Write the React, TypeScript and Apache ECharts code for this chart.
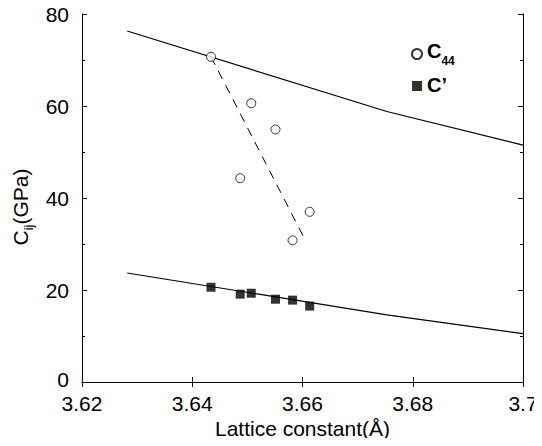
import React, { useEffect, useRef } from "react";
import * as echarts from "echarts";

const lattice = [3.6434, 3.6487, 3.6507, 3.6551, 3.6582, 3.6613];
const c44 = [70.7, 44.3, 60.6, 54.9, 30.8, 37.0];
const cPrime = [20.6, 19.1, 19.3, 18.0, 17.8, 16.5];

const fitX = [3.6434, 3.6606];
const fitY = [70.7, 30.6];

const curveX = [3.6282, 3.6753, 3.7];
const upperY = [76.3, 58.8, 51.5];
const lowerY = [23.7, 14.6, 10.5];

const FONT = "'Liberation Sans', Arial, Helvetica, sans-serif";

export default function App() {
  const ref = useRef<HTMLDivElement>(null);
  useEffect(() => {
    if (!ref.current) return;
    const chart = echarts.init(ref.current, null, { renderer: "svg" });
    const zip = (xs: number[], ys: number[]) => xs.map((x, i) => [x, ys[i]]);
    const axisLine = { show: true, lineStyle: { color: "#000", width: 1 } };
    const fmtX = (v: number) => String(parseFloat(v.toFixed(2)));
    chart.setOption({
      animation: false,
      textStyle: { fontFamily: FONT, color: "#000" },
      grid: { left: 82, right: 19, top: 14, bottom: 64 },
      legend: {
        orient: "vertical",
        left: 406,
        top: 36,
        itemGap: 8,
        itemWidth: 10,
        itemHeight: 10,
        data: ["C44", "C'"],
        formatter: (name: string) =>
          name === "C44" ? "{c|C}{s|44}" : "{c|C’}",
        textStyle: {
          color: "#000",
          rich: {
            c: { fontSize: 20, fontWeight: "bold", fontFamily: FONT, color: "#000", lineHeight: 22, verticalAlign: "top" },
            s: { fontSize: 12, fontWeight: "bold", fontFamily: FONT, color: "#000", padding: [14, 0, 0, 0], verticalAlign: "top" },
          },
        },
      },
      xAxis: [
        {
          type: "value",
          min: 3.62,
          max: 3.7,
          interval: 0.02,
          position: "bottom",
          name: "Lattice constant(Å)",
          nameLocation: "middle",
          nameGap: 36,
          nameTextStyle: { fontSize: 21, color: "#000", fontFamily: FONT },
          axisLine,
          axisTick: { show: true, inside: true, length: 5, lineStyle: { color: "#000" } },
          axisLabel: { fontSize: 21, lineHeight: 16, color: "#000", margin: 13, formatter: fmtX, fontFamily: FONT },
          splitLine: { show: false },
        },
        {
          type: "value",
          min: 3.62,
          max: 3.7,
          interval: 0.02,
          position: "top",
          axisLine,
          axisTick: { show: true, inside: true, length: 5, lineStyle: { color: "#000" } },
          axisLabel: { show: false },
          splitLine: { show: false },
        },
      ],
      yAxis: [
        {
          type: "value",
          min: 0,
          max: 80,
          interval: 20,
          position: "left",
          name: "{c|C}{s|ij}{g|(GPa)}",
          nameLocation: "middle",
          nameGap: 46,
          nameRotate: 90,
          nameTextStyle: {
            color: "#000",
            rich: {
              c: { fontSize: 21, color: "#000", fontFamily: FONT, lineHeight: 24, verticalAlign: "top" },
              g: { fontSize: 21, color: "#000", fontFamily: FONT, lineHeight: 24, verticalAlign: "top", padding: [0, 18, 0, 0] },
              s: { fontSize: 13, color: "#000", fontFamily: FONT, padding: [12, 0, 0, 0], verticalAlign: "top" },
            },
          },
          axisLine,
          axisTick: { show: true, inside: true, length: 5, lineStyle: { color: "#000" } },
          minorTick: { show: true, splitNumber: 2, length: 3, lineStyle: { color: "#000" } },
          axisLabel: {
            fontSize: 21,
            lineHeight: 16,
            color: "#000",
            margin: 13,
            fontFamily: FONT,
            formatter: (v: number) => (v === 0 ? "{z|0}" : String(v)),
            rich: {
              z: { fontSize: 21, lineHeight: 16, color: "#000", fontFamily: FONT, padding: [0, 0, 6, 0] },
            },
          },
          splitLine: { show: false },
          minorSplitLine: { show: false },
        },
        {
          type: "value",
          min: 0,
          max: 80,
          interval: 20,
          position: "right",
          axisLine,
          axisTick: { show: true, inside: true, length: 5, lineStyle: { color: "#000" } },
          minorTick: { show: true, splitNumber: 2, length: 3, lineStyle: { color: "#000" } },
          axisLabel: { show: false },
          splitLine: { show: false },
          minorSplitLine: { show: false },
        },
      ],
      series: [
        {
          name: "upper",
          type: "line",
          data: zip(curveX, upperY),
          showSymbol: false,
          symbol: "none",
          lineStyle: { color: "#000", width: 1.2 },
          z: 2,
        },
        {
          name: "lower",
          type: "line",
          data: zip(curveX, lowerY),
          showSymbol: false,
          symbol: "none",
          lineStyle: { color: "#000", width: 1.2 },
          z: 2,
        },
        {
          name: "fit",
          type: "line",
          data: zip(fitX, fitY),
          showSymbol: false,
          symbol: "none",
          lineStyle: { color: "#000", width: 1, type: [9, 7] },
          z: 2,
        },
        {
          name: "C44",
          type: "scatter",
          data: zip(lattice, c44),
          symbol: "circle",
          symbolSize: 9,
          itemStyle: { color: "#fff", borderColor: "#000", borderWidth: 1 },
          z: 3,
        },
        {
          name: "C'",
          type: "scatter",
          data: zip(lattice, cPrime),
          symbol: "rect",
          symbolSize: 9,
          itemStyle: { color: "#000" },
          z: 3,
        },
      ],
    });
    return () => chart.dispose();
  }, []);
  return <div ref={ref} style={{ width: 542, height: 446, margin: -8 }} />;
}
